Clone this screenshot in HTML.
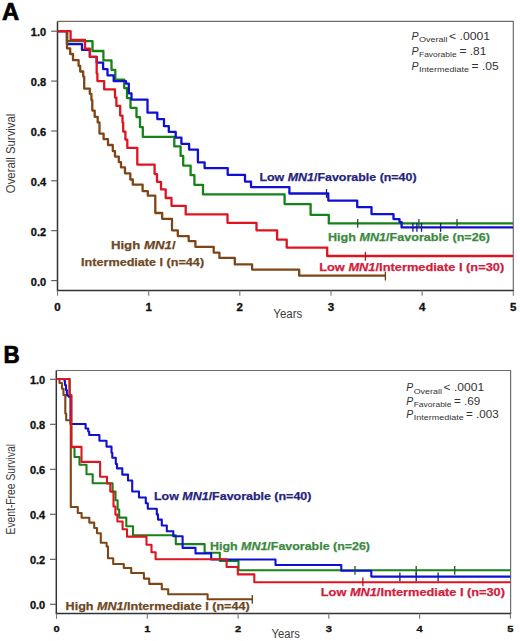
<!DOCTYPE html>
<html><head><meta charset="utf-8"><title>Kaplan-Meier</title><style>
html,body{margin:0;padding:0;background:#fff;}
svg{display:block;}
text{font-family:"Liberation Sans",sans-serif;}
.pl{font-size:24px;font-weight:bold;fill:#000;stroke:#000;stroke-width:0.7px;}
.tl{font-weight:bold;fill:#111;stroke:#111;stroke-width:0.3px;}
.at{font-size:12.3px;fill:#3c3c3c;}
.lb{font-weight:bold;stroke-width:0.25px;}
.pv{fill:#333;}
.sb{font-size:6.9px;fill:#333;}
</style></head><body>
<svg width="520" height="641" viewBox="0 0 520 641">
<rect width="520" height="641" fill="#fff"/>
<text x="1.9" y="19.7" class="pl" textLength="17.2" lengthAdjust="spacingAndGlyphs">A</text>
<text x="3.6" y="363.2" class="pl" textLength="16.2" lengthAdjust="spacingAndGlyphs">B</text>
<path d="M57.5 21.4 H513.3 V290.5" fill="none" stroke="#6e6e6e" stroke-width="1.2"/>
<path d="M57.5 21.4 V290.5 H513.9" fill="none" stroke="#333" stroke-width="1.5"/>
<line x1="51.2" y1="31.2" x2="57.5" y2="31.2" stroke="#555" stroke-width="1.1"/>
<text x="46.1" y="36.3" text-anchor="end" class="tl" font-size="10" textLength="15.3" lengthAdjust="spacingAndGlyphs">1.0</text>
<line x1="51.2" y1="81.1" x2="57.5" y2="81.1" stroke="#555" stroke-width="1.1"/>
<text x="46.1" y="86.2" text-anchor="end" class="tl" font-size="10" textLength="15.3" lengthAdjust="spacingAndGlyphs">0.8</text>
<line x1="51.2" y1="131.0" x2="57.5" y2="131.0" stroke="#555" stroke-width="1.1"/>
<text x="46.1" y="136.1" text-anchor="end" class="tl" font-size="10" textLength="15.3" lengthAdjust="spacingAndGlyphs">0.6</text>
<line x1="51.2" y1="180.8" x2="57.5" y2="180.8" stroke="#555" stroke-width="1.1"/>
<text x="46.1" y="185.9" text-anchor="end" class="tl" font-size="10" textLength="15.3" lengthAdjust="spacingAndGlyphs">0.4</text>
<line x1="51.2" y1="230.7" x2="57.5" y2="230.7" stroke="#555" stroke-width="1.1"/>
<text x="46.1" y="235.8" text-anchor="end" class="tl" font-size="10" textLength="15.3" lengthAdjust="spacingAndGlyphs">0.2</text>
<line x1="51.2" y1="280.6" x2="57.5" y2="280.6" stroke="#555" stroke-width="1.1"/>
<text x="46.1" y="285.7" text-anchor="end" class="tl" font-size="10" textLength="15.3" lengthAdjust="spacingAndGlyphs">0.0</text>
<line x1="57.5" y1="290.5" x2="57.5" y2="295.7" stroke="#777" stroke-width="1.1"/>
<text x="57.5" y="311.0" text-anchor="middle" class="tl" font-size="10.0" textLength="6.4" lengthAdjust="spacingAndGlyphs">0</text>
<line x1="148.7" y1="290.5" x2="148.7" y2="295.7" stroke="#777" stroke-width="1.1"/>
<text x="148.7" y="311.0" text-anchor="middle" class="tl" font-size="10.0" textLength="6.4" lengthAdjust="spacingAndGlyphs">1</text>
<line x1="239.8" y1="290.5" x2="239.8" y2="295.7" stroke="#777" stroke-width="1.1"/>
<text x="239.8" y="311.0" text-anchor="middle" class="tl" font-size="10.0" textLength="6.4" lengthAdjust="spacingAndGlyphs">2</text>
<line x1="331.0" y1="290.5" x2="331.0" y2="295.7" stroke="#777" stroke-width="1.1"/>
<text x="331.0" y="311.0" text-anchor="middle" class="tl" font-size="10.0" textLength="6.4" lengthAdjust="spacingAndGlyphs">3</text>
<line x1="422.1" y1="290.5" x2="422.1" y2="295.7" stroke="#777" stroke-width="1.1"/>
<text x="422.1" y="311.0" text-anchor="middle" class="tl" font-size="10.0" textLength="6.4" lengthAdjust="spacingAndGlyphs">4</text>
<line x1="513.3" y1="290.5" x2="513.3" y2="295.7" stroke="#777" stroke-width="1.1"/>
<text x="513.3" y="311.0" text-anchor="middle" class="tl" font-size="10.0" textLength="6.4" lengthAdjust="spacingAndGlyphs">5</text>
<path d="M56.3 370.5 H510.6 V613.6" fill="none" stroke="#6e6e6e" stroke-width="1.2"/>
<path d="M56.3 370.5 V613.6 H511.2" fill="none" stroke="#333" stroke-width="1.5"/>
<line x1="50.0" y1="379.3" x2="56.3" y2="379.3" stroke="#555" stroke-width="1.1"/>
<text x="45.2" y="384.4" text-anchor="end" class="tl" font-size="10" textLength="15.3" lengthAdjust="spacingAndGlyphs">1.0</text>
<line x1="50.0" y1="424.3" x2="56.3" y2="424.3" stroke="#555" stroke-width="1.1"/>
<text x="45.2" y="429.4" text-anchor="end" class="tl" font-size="10" textLength="15.3" lengthAdjust="spacingAndGlyphs">0.8</text>
<line x1="50.0" y1="469.3" x2="56.3" y2="469.3" stroke="#555" stroke-width="1.1"/>
<text x="45.2" y="474.4" text-anchor="end" class="tl" font-size="10" textLength="15.3" lengthAdjust="spacingAndGlyphs">0.6</text>
<line x1="50.0" y1="514.3" x2="56.3" y2="514.3" stroke="#555" stroke-width="1.1"/>
<text x="45.2" y="519.4" text-anchor="end" class="tl" font-size="10" textLength="15.3" lengthAdjust="spacingAndGlyphs">0.4</text>
<line x1="50.0" y1="559.3" x2="56.3" y2="559.3" stroke="#555" stroke-width="1.1"/>
<text x="45.2" y="564.4" text-anchor="end" class="tl" font-size="10" textLength="15.3" lengthAdjust="spacingAndGlyphs">0.2</text>
<line x1="50.0" y1="604.3" x2="56.3" y2="604.3" stroke="#555" stroke-width="1.1"/>
<text x="45.2" y="609.4" text-anchor="end" class="tl" font-size="10" textLength="15.3" lengthAdjust="spacingAndGlyphs">0.0</text>
<line x1="56.5" y1="613.6" x2="56.5" y2="618.8" stroke="#777" stroke-width="1.1"/>
<text x="56.5" y="631.9" text-anchor="middle" class="tl" font-size="9.0" textLength="6.2" lengthAdjust="spacingAndGlyphs">0</text>
<line x1="147.3" y1="613.6" x2="147.3" y2="618.8" stroke="#777" stroke-width="1.1"/>
<text x="147.3" y="631.9" text-anchor="middle" class="tl" font-size="9.0" textLength="6.2" lengthAdjust="spacingAndGlyphs">1</text>
<line x1="238.1" y1="613.6" x2="238.1" y2="618.8" stroke="#777" stroke-width="1.1"/>
<text x="238.1" y="631.9" text-anchor="middle" class="tl" font-size="9.0" textLength="6.2" lengthAdjust="spacingAndGlyphs">2</text>
<line x1="328.8" y1="613.6" x2="328.8" y2="618.8" stroke="#777" stroke-width="1.1"/>
<text x="328.8" y="631.9" text-anchor="middle" class="tl" font-size="9.0" textLength="6.2" lengthAdjust="spacingAndGlyphs">3</text>
<line x1="419.6" y1="613.6" x2="419.6" y2="618.8" stroke="#777" stroke-width="1.1"/>
<text x="419.6" y="631.9" text-anchor="middle" class="tl" font-size="9.0" textLength="6.2" lengthAdjust="spacingAndGlyphs">4</text>
<line x1="510.4" y1="613.6" x2="510.4" y2="618.8" stroke="#777" stroke-width="1.1"/>
<text x="510.4" y="631.9" text-anchor="middle" class="tl" font-size="9.0" textLength="6.2" lengthAdjust="spacingAndGlyphs">5</text>
<text x="0" y="0" class="at" transform="translate(15.1,153.4) rotate(-90)" text-anchor="middle" textLength="79.6" lengthAdjust="spacingAndGlyphs">Overall Survival</text>
<text x="0" y="0" class="at" transform="translate(15.2,489.2) rotate(-90)" text-anchor="middle" textLength="90.6" lengthAdjust="spacingAndGlyphs">Event-Free Survival</text>
<text x="273.3" y="318.2" class="at" textLength="29" lengthAdjust="spacingAndGlyphs">Years</text>
<text x="271.6" y="638.2" class="at" textLength="28.4" lengthAdjust="spacingAndGlyphs">Years</text>
<path d="M57.5 31.2 L67.0 31.2 L67.0 41.2 L92.5 41.2 L92.5 51.0 L103.4 51.0 L103.4 60.4 L111.5 60.4 L111.5 69.8 L115.3 69.8 L115.3 79.6 L124.2 79.6 L124.2 88.1 L127.0 88.1 L127.0 98.1 L130.5 98.1 L130.5 107.8 L136.5 107.8 L136.5 117.1 L140.0 117.1 L140.0 127.1 L142.8 127.1 L142.8 136.8 L174.3 136.8 L174.3 146.4 L180.6 146.4 L180.6 155.9 L183.2 155.9 L183.2 165.6 L190.6 165.6 L190.6 175.2 L194.4 175.2 L194.4 184.8 L203.0 184.8 L203.0 194.4 L284.6 194.4 L284.6 204.1 L310.6 204.1 L310.6 214.8 L328.8 214.8 L328.8 223.4 L513.0 223.4" fill="none" stroke="#168218" stroke-width="2.3" stroke-linejoin="round" stroke-linecap="butt"/>
<path d="M57.5 31.2 L67.0 31.2 L67.0 44.1 L82.0 44.1 L82.0 49.9 L89.8 49.9 L89.8 56.9 L96.7 56.9 L96.7 62.6 L103.1 62.6 L103.1 69.1 L107.5 69.1 L107.5 75.3 L113.7 75.3 L113.7 81.2 L126.0 81.2 L126.0 83.6 L128.8 83.6 L128.8 93.3 L131.5 93.3 L131.5 99.6 L147.5 99.6 L147.5 112.7 L157.3 112.7 L157.3 119.1 L164.0 119.1 L164.0 126.2 L168.8 126.2 L168.8 131.9 L175.7 131.9 L175.7 137.6 L181.4 137.6 L181.4 143.8 L189.1 143.8 L189.1 149.6 L197.9 149.6 L197.9 162.3 L204.6 162.3 L204.6 168.1 L227.7 168.1 L227.7 174.8 L245.0 174.8 L245.0 181.6 L251.0 181.6 L251.0 187.1 L289.4 187.1 L289.4 193.5 L328.3 193.5 L328.3 200.6 L357.2 200.6 L357.2 207.1 L371.5 207.1 L371.5 214.1 L393.5 214.1 L393.5 219.1 L399.5 219.1 L399.5 222.1 L401.6 222.1 L401.6 227.4 L513.0 227.4" fill="none" stroke="#1010d0" stroke-width="2.3" stroke-linejoin="round" stroke-linecap="butt"/>
<path d="M57.5 31.2 L67.0 31.2 L67.0 48.4 L70.2 48.4 L70.2 54.0 L73.0 54.0 L73.0 60.2 L78.6 60.2 L78.6 65.9 L80.2 65.9 L80.2 71.5 L83.2 71.5 L83.2 76.6 L84.2 76.6 L84.2 88.6 L89.8 88.6 L89.8 93.8 L91.4 93.8 L91.4 100.1 L92.3 100.1 L92.3 110.6 L94.7 110.6 L94.7 116.8 L97.7 116.8 L97.7 122.4 L99.5 122.4 L99.5 133.6 L103.6 133.6 L103.6 139.2 L108.0 139.2 L108.0 145.0 L112.8 145.0 L112.8 151.1 L115.0 151.1 L115.0 156.6 L118.8 156.6 L118.8 162.1 L121.0 162.1 L121.0 167.4 L125.0 167.4 L125.0 173.3 L130.3 173.3 L130.3 179.5 L132.8 179.5 L132.8 184.7 L142.6 184.7 L142.6 191.1 L147.8 191.1 L147.8 195.7 L155.3 195.7 L155.3 213.0 L162.2 213.0 L162.2 218.8 L172.0 218.8 L172.0 230.3 L177.8 230.3 L177.8 236.1 L188.7 236.1 L188.7 241.1 L195.4 241.1 L195.4 246.8 L213.7 246.8 L213.7 252.6 L219.4 252.6 L219.4 257.9 L234.8 257.9 L234.8 264.4 L252.1 264.4 L252.1 269.6 L299.2 269.6 L299.2 275.7 L385.4 275.7" fill="none" stroke="#7e4616" stroke-width="2.3" stroke-linejoin="round" stroke-linecap="butt"/>
<path d="M57.5 31.2 L70.6 31.2 L70.6 40.0 L85.0 40.0 L85.0 48.7 L90.0 48.7 L90.0 56.9 L96.7 56.9 L96.7 73.6 L97.4 73.6 L97.4 81.1 L104.2 81.1 L104.2 89.4 L115.0 89.4 L115.0 97.6 L116.4 97.6 L116.4 105.9 L120.2 105.9 L120.2 115.6 L122.5 115.6 L122.5 122.6 L123.2 122.6 L123.2 131.6 L125.4 131.6 L125.4 139.6 L127.3 139.6 L127.3 147.9 L137.3 147.9 L137.3 164.6 L154.6 164.6 L154.6 174.1 L157.0 174.1 L157.0 181.8 L161.0 181.8 L161.0 189.4 L165.7 189.4 L165.7 198.0 L171.5 198.0 L171.5 205.8 L185.7 205.8 L185.7 214.4 L227.5 214.4 L227.5 222.8 L256.5 222.8 L256.5 230.3 L277.1 230.3 L277.1 239.6 L286.7 239.6 L286.7 247.6 L327.2 247.6 L327.2 256.0 L513.0 256.0" fill="none" stroke="#de1420" stroke-width="2.3" stroke-linejoin="round" stroke-linecap="butt"/>
<line x1="365.4" y1="251.8" x2="365.4" y2="260.6" stroke="#b01222" stroke-width="1.3"/>
<line x1="357.7" y1="219.0" x2="357.7" y2="227.8" stroke="#1e5a22" stroke-width="1.3"/>
<line x1="418.9" y1="219.0" x2="418.9" y2="227.8" stroke="#1e5a22" stroke-width="1.3"/>
<line x1="457.0" y1="219.0" x2="457.0" y2="227.8" stroke="#1e5a22" stroke-width="1.3"/>
<line x1="326.5" y1="189.1" x2="326.5" y2="197.9" stroke="#1a1a8a" stroke-width="1.3"/>
<line x1="412.9" y1="223.0" x2="412.9" y2="231.8" stroke="#1a1a8a" stroke-width="1.3"/>
<line x1="416.9" y1="223.0" x2="416.9" y2="231.8" stroke="#1a1a8a" stroke-width="1.3"/>
<line x1="421.5" y1="223.0" x2="421.5" y2="231.8" stroke="#1a1a8a" stroke-width="1.3"/>
<line x1="440.6" y1="223.0" x2="440.6" y2="231.8" stroke="#1a1a8a" stroke-width="1.3"/>
<line x1="385.4" y1="271.7" x2="385.4" y2="280.5" stroke="#6a3a12" stroke-width="1.3"/>
<path d="M56.5 379.0 L69.6 379.0 L69.6 395.0 L71.3 395.0 L71.3 447.2 L74.5 447.2 L74.5 457.0 L79.5 457.0 L79.5 464.7 L86.5 464.7 L86.5 474.3 L92.7 474.3 L92.7 483.2 L112.6 483.2 L112.6 491.6 L115.5 491.6 L115.5 500.3 L117.6 500.3 L117.6 509.5 L119.2 509.5 L119.2 517.6 L126.3 517.6 L126.3 526.3 L133.0 526.3 L133.0 535.2 L175.8 535.2 L175.8 544.1 L204.6 544.1 L204.6 552.7 L219.8 552.7 L219.8 561.0 L238.5 561.0 L238.5 570.3 L510.4 570.3" fill="none" stroke="#168218" stroke-width="2.1" stroke-linejoin="round" stroke-linecap="butt"/>
<path d="M56.5 379.0 L64.4 379.0 L64.4 381.0 L65.0 381.0 L65.0 385.0 L66.0 385.0 L66.0 390.0 L66.9 390.0 L66.9 395.5 L68.5 395.5 L68.5 396.6 L70.5 396.6 L70.5 424.0 L85.6 424.0 L85.6 428.5 L88.2 428.5 L88.2 431.5 L89.2 431.5 L89.2 435.0 L99.4 435.0 L99.4 440.8 L106.5 440.8 L106.5 446.6 L111.5 446.6 L111.5 452.8 L112.3 452.8 L112.3 457.7 L115.8 457.7 L115.8 464.0 L117.0 464.0 L117.0 468.4 L122.3 468.4 L122.3 474.6 L128.0 474.6 L128.0 480.5 L132.2 480.5 L132.2 491.5 L139.0 491.5 L139.0 497.5 L145.8 497.5 L145.8 503.2 L147.8 503.2 L147.8 508.7 L156.8 508.7 L156.8 514.4 L158.0 514.4 L158.0 519.6 L161.8 519.6 L161.8 525.5 L166.8 525.5 L166.8 531.3 L173.3 531.3 L173.3 536.3 L182.6 536.3 L182.6 547.9 L195.5 547.9 L195.5 553.4 L211.2 553.4 L211.2 559.5 L275.5 559.5 L275.5 565.0 L341.3 565.0 L341.3 570.8 L371.3 570.8 L371.3 576.6 L510.4 576.6" fill="none" stroke="#1010d0" stroke-width="2.1" stroke-linejoin="round" stroke-linecap="butt"/>
<path d="M56.5 379.0 L59.5 379.0 L59.5 383.0 L62.0 383.0 L62.0 388.8 L63.5 388.8 L63.5 395.0 L65.3 395.0 L65.3 413.5 L66.2 413.5 L66.2 420.2 L70.8 420.2 L70.8 507.0 L77.8 507.0 L77.8 513.0 L81.6 513.0 L81.6 517.8 L89.3 517.8 L89.3 522.6 L94.2 522.6 L94.2 528.0 L97.0 528.0 L97.0 533.2 L100.8 533.2 L100.8 542.8 L106.6 542.8 L106.6 546.5 L108.0 546.5 L108.0 558.2 L113.2 558.2 L113.2 564.0 L123.8 564.0 L123.8 568.0 L131.2 568.0 L131.2 573.0 L143.9 573.0 L143.9 578.6 L149.2 578.6 L149.2 583.9 L161.8 583.9 L161.8 589.2 L168.2 589.2 L168.2 594.3 L207.6 594.3 L207.6 599.2 L252.3 599.2" fill="none" stroke="#7e4616" stroke-width="2.1" stroke-linejoin="round" stroke-linecap="butt"/>
<path d="M56.5 379.0 L69.6 379.0 L69.6 395.0 L71.3 395.0 L71.3 446.9 L81.5 446.9 L81.5 461.9 L100.1 461.9 L100.1 476.8 L107.0 476.8 L107.0 483.5 L110.3 483.5 L110.3 491.6 L113.5 491.6 L113.5 506.5 L115.4 506.5 L115.4 514.6 L117.4 514.6 L117.4 521.5 L122.6 521.5 L122.6 529.2 L127.0 529.2 L127.0 536.6 L146.5 536.6 L146.5 544.8 L151.5 544.8 L151.5 552.3 L155.6 552.3 L155.6 559.3 L226.6 559.3 L226.6 567.0 L237.8 567.0 L237.8 574.4 L254.3 574.4 L254.3 582.2 L510.4 582.3" fill="none" stroke="#de1420" stroke-width="2.1" stroke-linejoin="round" stroke-linecap="butt"/>
<line x1="362.9" y1="577.4" x2="362.9" y2="586.2" stroke="#b01222" stroke-width="1.3"/>
<line x1="355.0" y1="565.9" x2="355.0" y2="574.7" stroke="#1e5a22" stroke-width="1.3"/>
<line x1="416.2" y1="565.9" x2="416.2" y2="574.7" stroke="#1e5a22" stroke-width="1.3"/>
<line x1="454.7" y1="565.9" x2="454.7" y2="574.7" stroke="#1e5a22" stroke-width="1.3"/>
<line x1="399.9" y1="572.4" x2="399.9" y2="581.2" stroke="#1a1a8a" stroke-width="1.3"/>
<line x1="416.2" y1="572.4" x2="416.2" y2="581.2" stroke="#1a1a8a" stroke-width="1.3"/>
<line x1="438.1" y1="572.4" x2="438.1" y2="581.2" stroke="#1a1a8a" stroke-width="1.3"/>
<line x1="252.3" y1="595.0" x2="252.3" y2="603.8" stroke="#6a3a12" stroke-width="1.3"/>
<text x="259.4" y="181.0" class="lb" fill="#25257e" stroke="#25257e" font-size="11.8" textLength="157.2" lengthAdjust="spacingAndGlyphs">Low <tspan font-style="italic">MN1</tspan>/Favorable (n=40)</text>
<text x="328.0" y="240.7" class="lb" fill="#3a8a3e" stroke="#3a8a3e" font-size="11.8" textLength="161.9" lengthAdjust="spacingAndGlyphs">High <tspan font-style="italic">MN1</tspan>/Favorable (n=26)</text>
<text x="319.2" y="270.7" class="lb" fill="#d0203c" stroke="#d0203c" font-size="11.8" textLength="185.0" lengthAdjust="spacingAndGlyphs">Low <tspan font-style="italic">MN1</tspan>/Intermediate I (n=30)</text>
<text x="110.9" y="249.4" class="lb" fill="#6e4824" stroke="#6e4824" font-size="11.8" textLength="64.7" lengthAdjust="spacingAndGlyphs">High <tspan font-style="italic">MN1</tspan>/</text>
<text x="81.1" y="266.0" class="lb" fill="#6e4824" stroke="#6e4824" font-size="11.8" textLength="123.0" lengthAdjust="spacingAndGlyphs">Intermediate I (n=44)</text>
<text x="154.0" y="499.8" class="lb" fill="#25257e" stroke="#25257e" font-size="11.2" textLength="157.4" lengthAdjust="spacingAndGlyphs">Low <tspan font-style="italic">MN1</tspan>/Favorable (n=40)</text>
<text x="210.0" y="549.6" class="lb" fill="#3a8a3e" stroke="#3a8a3e" font-size="11.2" textLength="160.0" lengthAdjust="spacingAndGlyphs">High <tspan font-style="italic">MN1</tspan>/Favorable (n=26)</text>
<text x="320.8" y="596.0" class="lb" fill="#d0203c" stroke="#d0203c" font-size="11.2" textLength="184.2" lengthAdjust="spacingAndGlyphs">Low <tspan font-style="italic">MN1</tspan>/Intermediate I (n=30)</text>
<text x="65.6" y="610.0" class="lb" fill="#6e4824" stroke="#6e4824" font-size="11.2" textLength="184.0" lengthAdjust="spacingAndGlyphs">High <tspan font-style="italic">MN1</tspan>/Intermediate I (n=44)</text>
<text x="411.6" y="39.5" class="pv" font-style="italic" font-size="10.6">P</text>
<text x="419.0" y="41.9" class="sb" textLength="28.6" lengthAdjust="spacingAndGlyphs">Overall</text>
<text x="449.0" y="39.5" class="pv" textLength="41.0" lengthAdjust="spacingAndGlyphs" font-size="10.6">&lt; .0001</text>
<text x="411.6" y="54.5" class="pv" font-style="italic" font-size="10.6">P</text>
<text x="419.0" y="56.9" class="sb" textLength="37.6" lengthAdjust="spacingAndGlyphs">Favorable</text>
<text x="459.5" y="54.5" class="pv" textLength="26.8" lengthAdjust="spacingAndGlyphs" font-size="10.6">= .81</text>
<text x="411.6" y="69.9" class="pv" font-style="italic" font-size="10.6">P</text>
<text x="419.0" y="72.3" class="sb" textLength="50.0" lengthAdjust="spacingAndGlyphs">Intermediate</text>
<text x="471.6" y="69.9" class="pv" textLength="27.2" lengthAdjust="spacingAndGlyphs" font-size="10.6">= .05</text>
<text x="406.3" y="391.1" class="pv" font-style="italic" font-size="10.4">P</text>
<text x="413.7" y="393.5" class="sb" textLength="28.2" lengthAdjust="spacingAndGlyphs">Overall</text>
<text x="443.6" y="391.1" class="pv" textLength="40.5" lengthAdjust="spacingAndGlyphs" font-size="10.4">&lt; .0001</text>
<text x="406.3" y="404.5" class="pv" font-style="italic" font-size="10.4">P</text>
<text x="413.7" y="406.9" class="sb" textLength="37.8" lengthAdjust="spacingAndGlyphs">Favorable</text>
<text x="454.0" y="404.5" class="pv" textLength="26.3" lengthAdjust="spacingAndGlyphs" font-size="10.4">= .69</text>
<text x="406.3" y="418.0" class="pv" font-style="italic" font-size="10.4">P</text>
<text x="413.7" y="420.4" class="sb" textLength="50.0" lengthAdjust="spacingAndGlyphs">Intermediate</text>
<text x="466.0" y="418.0" class="pv" textLength="32.6" lengthAdjust="spacingAndGlyphs" font-size="10.4">= .003</text>
</svg>
</body></html>
